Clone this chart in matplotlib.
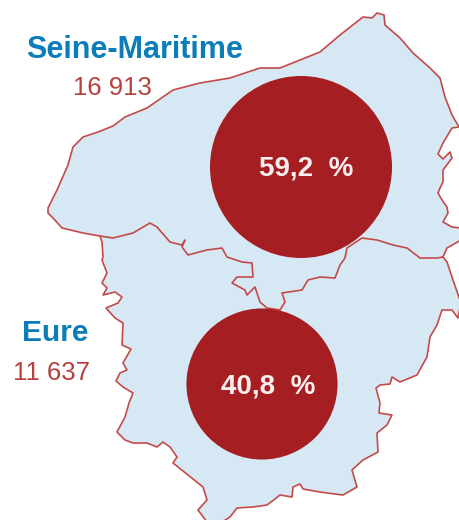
import numpy as np
import matplotlib
matplotlib.use("Agg")
import matplotlib.pyplot as plt
from matplotlib.patches import Polygon, Circle

plt.rcParams['font.family'] = ['Liberation Sans', 'DejaVu Sans']

departments = ["Seine-Maritime", "Eure"]
counts = ["16 913", "11 637"]
shares = [59.2, 40.8]
share_labels = ["59,2  %", "40,8  %"]

# map outline, in picture pixels
outline_x = [48, 57, 68, 73, 83, 98, 113, 125, 147, 173, 200, 230, 260, 280, 320, 340, 363, 372, 377, 384, 385,
             400, 413, 430, 440, 445, 452, 459, 452, 443, 438, 443, 450, 452, 443, 443, 440, 438, 442, 447, 448, 443, 452, 461,
             461, 447, 443, 447, 453, 461, 458, 452, 442, 437, 430, 427, 417, 400, 392, 390, 380, 376, 380, 379, 392,
             387, 377, 378, 363, 352, 357, 343, 327, 320, 303, 300, 293, 292, 280, 275, 267, 253, 237, 230, 222,
             207, 198, 207, 203, 173, 177, 170, 163, 157, 147, 133, 125, 117, 125, 129, 133, 123, 116, 120, 127, 123,
             131, 122, 123, 115, 106, 118, 122, 115, 103, 107, 102, 107, 102, 103, 102, 100, 83, 62, 53, 48]
outline_y = [208, 190, 165, 147, 137, 132, 126, 117, 108, 90, 83, 78, 68, 68, 52, 35, 17, 18, 13, 15, 25,
             38, 53, 68, 78, 97, 115, 127, 128, 143, 154, 159, 152, 158, 170, 182, 188, 193, 200, 207, 213, 222, 227, 228,
             240, 248, 257, 262, 280, 303, 318, 310, 310, 325, 337, 357, 375, 382, 377, 384, 385, 388, 403, 413, 415,
             425, 433, 452, 460, 470, 487, 495, 493, 492, 489, 484, 487, 497, 495, 499, 505, 507, 508, 517, 522,
             522, 510, 500, 487, 463, 457, 447, 442, 447, 443, 443, 440, 432, 417, 403, 393, 387, 381, 373, 370, 363,
             349, 345, 323, 318, 308, 303, 297, 292, 295, 288, 283, 273, 260, 257, 242, 236, 233, 228, 218, 213]

border_x = [100, 113, 133, 150, 157, 170, 182, 185, 182, 188, 207, 222, 227, 242, 252, 253, 237, 232, 245, 247, 255,
            260, 267, 280, 285, 282, 302, 308, 320, 335, 340, 345, 347, 362, 377, 393, 407, 420, 437, 443]
border_y = [236, 238, 233, 223, 227, 242, 245, 240, 247, 255, 250, 248, 257, 262, 263, 277, 277, 283, 290, 295, 287,
            302, 308, 310, 302, 293, 290, 280, 277, 278, 265, 258, 248, 238, 240, 245, 248, 258, 258, 257]

fig = plt.figure(figsize=(4.6, 5.2), dpi=100)
ax = fig.add_axes([0, 0, 1, 1])
ax.set_xlim(0, 460)
ax.set_ylim(520, 0)
ax.axis('off')

line_color = "#c44a4a"
ax.add_patch(Polygon(np.column_stack([outline_x, outline_y]), closed=True, facecolor="#d6e8f3",
                     edgecolor=line_color, linewidth=1.2, joinstyle='round'))
ax.plot(border_x, border_y, color=line_color, linewidth=1.2)

# circle area follows the share
centers = [(301, 167), (262, 384)]
scale = 91 / np.sqrt(shares[0])
for (cx, cy), share, label, ly, tx in zip(centers, shares, share_labels, [176, 394], [306, 268]):
    ax.add_patch(Circle((cx, cy), scale * np.sqrt(share), facecolor="#a51e22", edgecolor="none", zorder=3))
    ax.text(tx, ly, label, color="#fbeeee", fontsize=20, fontweight='bold', ha='center', va='baseline', zorder=4)

name_pos = [(135, 58), (55, 341)]
name_size = [22, 21.5]
count_pos = [(112, 95), (52, 380)]
for name, count, np_, cp, size in zip(departments, counts, name_pos, count_pos, name_size):
    ax.text(np_[0], np_[1], name, color="#0b7db9", fontsize=size, fontweight='bold', ha='center', va='baseline')
    ax.text(cp[0], cp[1], count, color="#b5403c", fontsize=18.5, ha='center', va='baseline')

fig.savefig("out.png", dpi=100)
